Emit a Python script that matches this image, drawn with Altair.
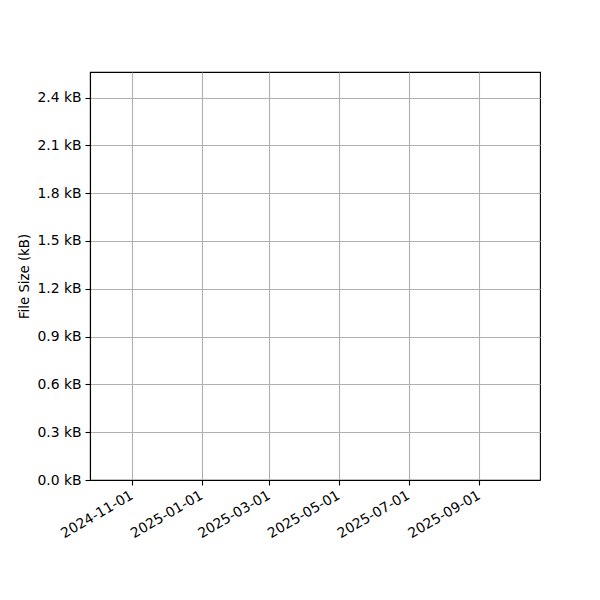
import altair as alt
import pandas as pd

# Data: the reference chart shows no data points (empty series)
dates = []
sizes_kb = []

x_ticks = ["2024-11-01", "2025-01-01", "2025-03-01", "2025-05-01", "2025-07-01", "2025-09-01"]
y_ticks = [0.0, 0.3, 0.6, 0.9, 1.2, 1.5, 1.8, 2.1, 2.4]
x_domain = ["2024-09-25", "2025-10-24"]
y_domain = [0, 2.56]

df = pd.DataFrame({"date": pd.to_datetime(pd.Series(dates, dtype="object")),
                   "size": pd.Series(sizes_kb, dtype="float")})


def dt(s):
    y, m, d = (int(v) for v in s.split("-"))
    return alt.DateTime(year=y, month=m, date=d)


font = "DejaVu Sans"

chart = alt.Chart(df).mark_point(color="#1f77b4").encode(
    x=alt.X("date:T",
            scale=alt.Scale(domain=[dt(s) for s in x_domain], nice=False),
            axis=alt.Axis(values=[dt(s) for s in x_ticks], format="%Y-%m-%d",
                          labelAngle=330, labelAlign="right", labelBaseline="top",
                          labelPadding=3, labelOffset=-4, title=None, grid=True)),
    y=alt.Y("size:Q",
            scale=alt.Scale(domain=y_domain, nice=False, zero=True),
            axis=alt.Axis(values=y_ticks, labelExpr="format(datum.value, '.1f') + ' kB'",
                          title="File Size (kB)", grid=True, titlePadding=5,
                          titleFontSize=13.3, labelPadding=4)),
).properties(
    width=450, height=408,
    autosize=alt.AutoSizeParams(type="none"),
    padding={"left": 82, "top": 64, "right": 52, "bottom": 104},
).configure_view(
    stroke="black", strokeWidth=1.1
).configure_axis(
    labelFont=font, titleFont=font, labelFontSize=13.9, titleFontSize=13.9,
    labelColor="black", titleColor="black", titleFontWeight="normal",
    domainColor="black", domainWidth=1.1,
    tickColor="black", tickSize=5, tickWidth=1.1,
    gridColor="#b0b0b0", gridWidth=1.1,
    labelFlush=False, labelOverlap=False,
)

chart.save("out.html", embed_options={"renderer": "svg", "actions": False})
